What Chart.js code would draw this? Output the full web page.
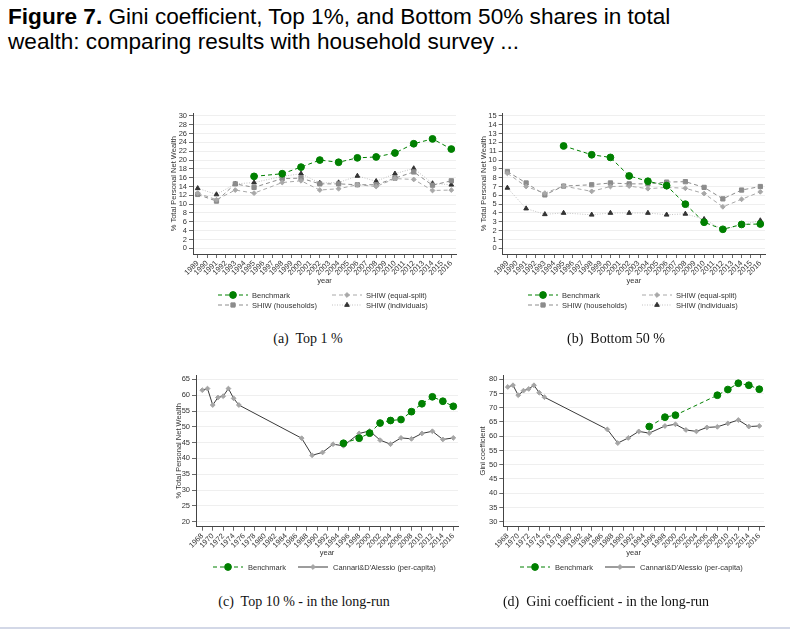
<!DOCTYPE html>
<html lang="en">
<head>
<meta charset="UTF-8" />
<title>Figure 7</title>
<script src="https://cdn.jsdelivr.net/npm/chart.js@4.4.0/dist/chart.umd.min.js"></script>
<style>
  body { margin: 0; background: #fff; width: 790px; height: 634px; position: relative; overflow: hidden;
         font-family: "Liberation Sans", Arial, sans-serif; }
  .title { position: absolute; left: 8px; top: 4px; font-size: 22.6px; line-height: 25px; color: #000;
           white-space: nowrap; }
  canvas { position: absolute; }
  .caption { position: absolute; width: 300px; text-align: center; white-space: pre;
             font-family: "Liberation Serif", "Times New Roman", serif; font-size: 14px; line-height: 16px; color: #111; }
  .rule { position: absolute; left: 0; top: 627px; width: 790px; height: 2px; background: #d3d8e7; }
</style>
</head>
<body>
<div class="title"><b>Figure 7.</b> Gini coefficient, Top 1%, and Bottom 50% shares in total<br>wealth: comparing results with household survey ...</div>

<canvas id="top1" width="314" height="215" style="left:150px;top:105px"></canvas>
<canvas id="bottom50" width="313" height="215" style="left:460px;top:105px"></canvas>
<canvas id="top10" width="311" height="220" style="left:155px;top:365px"></canvas>
<canvas id="gini" width="312" height="220" style="left:460px;top:365px"></canvas>

<div class="caption" style="left:158px;top:331px">(a)  Top 1 %</div>
<div class="caption" style="left:466px;top:331px">(b)  Bottom 50 %</div>
<div class="caption" style="left:154px;top:594px">(c)  Top 10 % - in the long-run</div>
<div class="caption" style="left:456px;top:594px">(d)  Gini coefficient - in the long-run</div>
<div class="rule"></div>

<script>
  // survey years
  const surveyYears = [1989, 1991, 1993, 1995, 1998, 2000, 2002, 2004, 2006, 2008, 2010, 2012, 2014, 2016];
  const benchYears = [1995, 1998, 2000, 2002, 2004, 2006, 2008, 2010, 2012, 2014, 2016];
  const longYears = [1968, 1969, 1970, 1971, 1972, 1973, 1974, 1975, 1987, 1989, 1991, 1993, 1995,
                     1998, 2000, 2002, 2004, 2006, 2008, 2010, 2012, 2014, 2016];
  const giniBenchYears = [1995, 1998, 2000, 2008, 2010, 2012, 2014, 2016];

  // (a) Top 1 %
  const top1Benchmark   = [16.3, 16.9, 18.4, 20.0, 19.5, 20.5, 20.7, 21.6, 23.7, 24.8, 22.5];
  const top1Households  = [12.2, 10.7, 14.6, 13.8, 15.8, 15.9, 14.6, 14.6, 14.4, 14.4, 15.9, 17.3, 14.3, 15.3];
  const top1EqualSplit  = [12.5, 11.0, 13.2, 12.5, 14.9, 15.3, 13.2, 13.5, 14.4, 14.0, 15.8, 15.6, 13.1, 13.2];
  const top1Individuals = [13.6, 12.2, 14.6, 14.9, 16.3, 16.9, 14.8, 14.9, 16.4, 15.2, 16.9, 18.1, 14.7, 14.4];

  // (b) Bottom 50 %
  const bot50Benchmark   = [11.6, 10.6, 10.3, 8.2, 7.6, 7.1, 5.0, 2.95, 2.15, 2.7, 2.75];
  const bot50Households  = [8.7, 7.4, 6.05, 7.05, 7.2, 7.4, 7.3, 7.3, 7.5, 7.55, 6.9, 5.6, 6.6, 7.0];
  const bot50EqualSplit  = [8.5, 7.0, 6.25, 7.05, 6.45, 7.0, 7.05, 6.75, 6.9, 6.8, 6.2, 4.7, 5.55, 6.4];
  const bot50Individuals = [6.85, 4.5, 3.85, 4.0, 3.8, 4.0, 4.0, 4.0, 3.8, 3.9, 3.3, 2.1, 2.65, 3.15];

  // (c) Top 10 % long run
  const top10Benchmark = [44.8, 46.4, 48.0, 51.2, 52.0, 52.3, 54.8, 57.3, 59.5, 58.1, 56.5];
  const top10Cannari   = [61.6, 62.1, 56.9, 59.3, 59.7, 62.1, 59.0, 56.9, 46.4, 41.0, 41.9, 44.5, 44.0,
                          47.9, 48.7, 45.8, 44.5, 46.5, 46.2, 47.9, 48.6, 46.0, 46.5];

  // (d) Gini long run
  const giniBenchmark = [63.4, 66.7, 67.4, 74.4, 76.4, 78.6, 77.9, 76.5];
  const giniCannari   = [77.3, 77.9, 74.4, 76.0, 76.6, 77.9, 75.3, 73.7, 62.4, 57.6, 59.4, 61.7, 61.1,
                         63.6, 64.2, 62.2, 61.7, 63.1, 63.3, 64.5, 65.7, 63.4, 63.6];

  const TEXT = '#333';
  const AXIS = '#444';
  const FONT = { family: '"Liberation Sans", Arial, sans-serif', size: 7.5 };
  const GREEN = '#008000';

  const styles = {
    benchmark:   { borderColor: GREEN, borderDash: [4, 3], pointStyle: 'circle', pointRadius: 3.4,
                   pointBackgroundColor: GREEN, pointBorderColor: GREEN },
    households:  { borderColor: '#8c8c8c', borderDash: [4, 3], pointStyle: 'rect', pointRadius: 3,
                   pointBackgroundColor: '#8c8c8c', pointBorderColor: '#8c8c8c' },
    equalSplit:  { borderColor: '#a8a8a8', borderDash: [4, 3], pointStyle: 'rectRot', pointRadius: 2.4,
                   pointBackgroundColor: '#a8a8a8', pointBorderColor: '#a8a8a8' },
    individuals: { borderColor: '#c2c2c2', borderDash: [1, 1.5], pointStyle: 'triangle', pointRadius: 2.7,
                   pointBackgroundColor: '#333', pointBorderColor: '#333' },
    cannari:     { borderColor: '#3a3a3a', borderDash: [], pointStyle: 'rectRot', pointRadius: 2.4,
                   pointBackgroundColor: '#a5a5a5', pointBorderColor: '#a5a5a5' }
  };

  function series(label, years, values, style) {
    return Object.assign({
      label: label,
      data: years.map((x, i) => ({ x: x, y: values[i] })),
      borderWidth: 1,
      pointBorderWidth: 1,
      fill: false,
      tension: 0
    }, style);
  }

  function range(a, b, step) {
    const out = [];
    for (let v = a; v <= b + 1e-9; v += step) out.push(v);
    return out;
  }

  function marker(ctx, ds, x, y) {
    const r = ds.pointRadius;
    ctx.fillStyle = ds.pointBackgroundColor;
    ctx.strokeStyle = ds.pointBorderColor;
    ctx.lineWidth = 1;
    ctx.beginPath();
    if (ds.pointStyle === 'circle') {
      ctx.arc(x, y, r, 0, Math.PI * 2);
    } else if (ds.pointStyle === 'rect') {
      const s = r * Math.SQRT1_2;
      ctx.rect(x - s, y - s, 2 * s, 2 * s);
    } else if (ds.pointStyle === 'rectRot') {
      ctx.moveTo(x, y - r); ctx.lineTo(x + r, y); ctx.lineTo(x, y + r); ctx.lineTo(x - r, y); ctx.closePath();
    } else if (ds.pointStyle === 'triangle') {
      ctx.moveTo(x, y - r);
      ctx.lineTo(x + r * 0.866, y + r / 2);
      ctx.lineTo(x - r * 0.866, y + r / 2);
      ctx.closePath();
    }
    ctx.fill();
    ctx.stroke();
  }

  // Stata-style legend: line sample with marker in the middle, laid out in a grid
  const stataLegend = {
    id: 'stataLegend',
    afterDraw(chart, args, opts) {
      const ctx = chart.ctx;
      ctx.save();
      ctx.font = FONT.size + 'px ' + FONT.family;
      ctx.textBaseline = 'middle';
      chart.data.datasets.forEach((ds, i) => {
        const [x, y] = opts.slots[i];
        ctx.strokeStyle = ds.borderColor;
        ctx.lineWidth = 1;
        ctx.setLineDash(ds.borderDash || []);
        ctx.beginPath();
        ctx.moveTo(x, y);
        ctx.lineTo(x + opts.sample, y);
        ctx.stroke();
        ctx.setLineDash([]);
        marker(ctx, ds, x + opts.sample / 2, y);
        ctx.fillStyle = TEXT;
        ctx.fillText(ds.label, x + opts.sample + opts.gap, y + 0.5);
      });
      ctx.restore();
    }
  };

  function panel(id, cfg) {
    return new Chart(document.getElementById(id), {
      type: 'line',
      data: { datasets: cfg.datasets },
      options: {
        responsive: false,
        animation: false,
        layout: { padding: cfg.padding },
        plugins: {
          legend: { display: false },
          tooltip: { enabled: false },
          stataLegend: cfg.legend
        },
        scales: {
          x: {
            type: 'linear',
            min: cfg.xMin,
            max: cfg.xMax,
            afterBuildTicks: s => { s.ticks = cfg.xTicks.map(v => ({ value: v })); },
            afterFit: s => { s.height = 31; },
            grid: { drawOnChartArea: false, tickLength: 4, tickColor: AXIS, tickWidth: 0.8 },
            border: { color: AXIS, width: 1 },
            ticks: { autoSkip: false, minRotation: 45, maxRotation: 45, padding: 1, color: TEXT, font: FONT,
                     callback: v => String(v) },
            title: { display: true, text: 'year', color: TEXT, font: FONT, padding: 0 }
          },
          y: {
            min: cfg.yMin,
            max: cfg.yMax,
            afterBuildTicks: s => { s.ticks = cfg.yTicks.map(v => ({ value: v })); },
            afterFit: s => { s.width = cfg.yWidth; },
            grid: { color: '#ebebeb', lineWidth: 0.8, tickLength: 4, tickColor: AXIS, tickWidth: 0.8 },
            border: { color: AXIS, width: 1 },
            ticks: { autoSkip: false, padding: 2, color: TEXT, font: FONT },
            title: { display: true, text: cfg.yTitle, color: TEXT, font: FONT, padding: 0 }
          }
        }
      },
      plugins: [stataLegend]
    });
  }

  const shortLegend = { slots: [[68, 190], [182, 190], [68, 200], [182, 200]], sample: 30, gap: 4 };

  panel('top1', {
    datasets: [
      series('Benchmark', benchYears, top1Benchmark, styles.benchmark),
      series('SHIW (equal-split)', surveyYears, top1EqualSplit, styles.equalSplit),
      series('SHIW (households)', surveyYears, top1Households, styles.households),
      series('SHIW (individuals)', surveyYears, top1Individuals, styles.individuals)
    ],
    padding: { left: 19, top: 8.3, right: 8, bottom: 35 },
    xMin: 1988.5, xMax: 2016.5, xTicks: range(1989, 2016, 1),
    yMin: -1.3, yMax: 30.6, yTicks: range(0, 30, 2), yWidth: 24,
    yTitle: '% Total Personal Net Wealth',
    legend: shortLegend
  });

  panel('bottom50', {
    datasets: [
      series('Benchmark', benchYears, bot50Benchmark, styles.benchmark),
      series('SHIW (equal-split)', surveyYears, bot50EqualSplit, styles.equalSplit),
      series('SHIW (households)', surveyYears, bot50Households, styles.households),
      series('SHIW (individuals)', surveyYears, bot50Individuals, styles.individuals)
    ],
    padding: { left: 19, top: 8.3, right: 8, bottom: 35 },
    xMin: 1988.5, xMax: 2016.5, xTicks: range(1989, 2016, 1),
    yMin: -0.65, yMax: 15.3, yTicks: range(0, 15, 1), yWidth: 23.7,
    yTitle: '% Total Personal Net Wealth',
    legend: shortLegend
  });

  panel('top10', {
    datasets: [
      series('Benchmark', benchYears, top10Benchmark, styles.benchmark),
      series("Cannari&D'Alessio (per-capita)", longYears, top10Cannari, styles.cannari)
    ],
    padding: { left: 19, top: 10, right: 8, bottom: 27.3 },
    xMin: 1966.8, xMax: 2016.9, xTicks: range(1968, 2016, 2),
    yMin: 18.4, yMax: 66.4, yTicks: range(20, 65, 5), yWidth: 22,
    yTitle: '% Total Personal Net Wealth',
    legend: { slots: [[58, 202], [143, 202]], sample: 30, gap: 5 }
  });

  panel('gini', {
    datasets: [
      series('Benchmark', giniBenchYears, giniBenchmark, styles.benchmark),
      series("Cannari&D'Alessio (per-capita)", longYears, giniCannari, styles.cannari)
    ],
    padding: { left: 18, top: 10, right: 8, bottom: 27.3 },
    xMin: 1967.15, xMax: 2016.9, xTicks: range(1968, 2016, 2),
    yMin: 28.24, yMax: 81.5, yTicks: range(30, 80, 5), yWidth: 25.3,
    yTitle: 'Gini coefficient',
    legend: { slots: [[60, 202], [145, 202]], sample: 30, gap: 5 }
  });
</script>
</body>
</html>
